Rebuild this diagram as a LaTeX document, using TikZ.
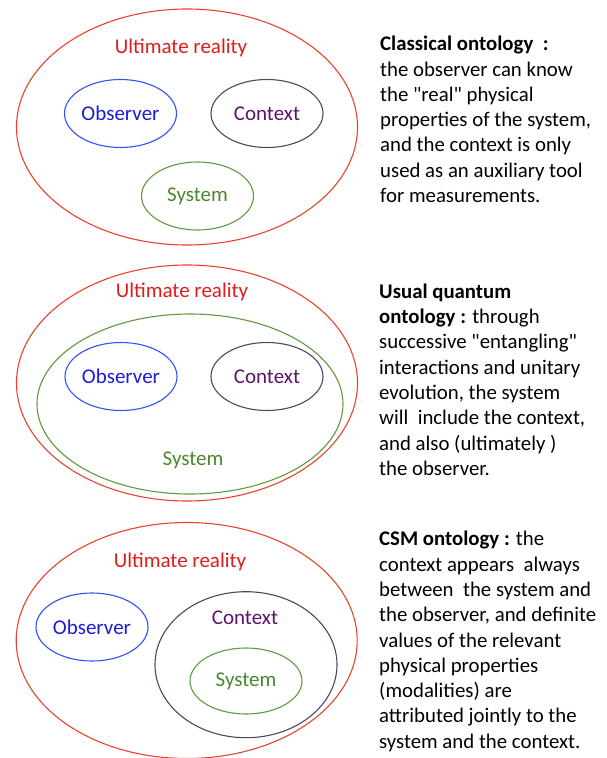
\documentclass[tikz,border=0pt]{standalone}
\usepackage{fontspec}
\setmainfont{Carlito}
\usepackage{xcolor}
\definecolor{realRed}{HTML}{E8432C}
\definecolor{realText}{HTML}{E01B1B}
\definecolor{obsBlue}{HTML}{3050FF}
\definecolor{obsText}{HTML}{1C1CD8}
\definecolor{ctxGray}{HTML}{4E4660}
\definecolor{ctxText}{HTML}{5B1468}
\definecolor{sysGreen}{HTML}{5F9A3C}
\definecolor{sysText}{HTML}{4B8630}
\usepackage{tikz}
\usetikzlibrary{shapes.geometric,positioning}
\tikzset{%
  baseOval/.style={%
    ellipse,
    inner sep=0pt,
    line width=1.1pt,
    font=\fontsize{21}{24}\selectfont
  },
  realityOval/.style={%
    baseOval,
    draw=realRed,
    minimum width=341pt,
    minimum height=236pt
  },
  observerOval/.style={%
    baseOval,
    draw=obsBlue,
    text=obsText,
    minimum width=112pt,
    minimum height=68pt
  },
  contextOval/.style={%
    baseOval,
    draw=ctxGray,
    text=ctxText,
    minimum width=112pt,
    minimum height=68pt
  },
  systemOval/.style={%
    baseOval,
    draw=sysGreen,
    text=sysText,
    minimum width=112pt,
    minimum height=68pt
  },
  ovalLabel/.style={%
    inner sep=0pt,
    font=\fontsize{21}{24}\selectfont
  },
  noteText/.style={%
    anchor=north west,
    align=left,
    inner sep=0pt,
    font=\fontsize{20.8}{25.3}\selectfont
  }
}

\begin{document}
\begin{tikzpicture}[x=1pt, y=-1pt]
  \useasboundingbox (0,0) rectangle (606,758);

  % classical ontology
  \node[realityOval] (realityA) at (187,127) {};
  \node[ovalLabel, text=realText] (realityTextA) at (181,48) {Ultimate reality};
  \node[observerOval] (observerA) at (120.5,113.5) {Observer};
  \node[contextOval] (contextA) at (267,113.5) {Context};
  \node[systemOval] (systemA) at (197.5,196) {System};
  \node[noteText] (noteA) at (380,36) {\textbf{Classical ontology\ \ :}\\
    the observer can know\\
    the \textquotedbl real\textquotedbl{} physical\\
    properties of the system,\\
    and the context is only\\
    used as an auxiliary tool\\
    for measurements.};

  % usual quantum ontology
  \node[realityOval] (realityB) at (187,383) {};
  \node[ovalLabel, text=realText] (realityTextB) at (182,292) {Ultimate reality};
  \node[baseOval, draw=sysGreen, minimum width=306pt, minimum height=180pt] (systemB) at (190,404) {};
  \node[ovalLabel, text=sysText] (systemTextB) at (193,460) {System};
  \node[observerOval] (observerB) at (121,376.5) {Observer};
  \node[contextOval] (contextB) at (267,376.5) {Context};
  \node[noteText] (noteB) at (379,283.5) {\textbf{Usual quantum}\\
    \textbf{ontology :} through\\
    successive \textquotedbl entangling\textquotedbl\\
    interactions and unitary\\
    evolution, the system\\
    will\ \ include the context,\\
    and also (ultimately )\\
    the observer.};

  % CSM ontology
  \node[realityOval] (realityC) at (186.7,640.5) {};
  \node[ovalLabel, text=realText] (realityTextC) at (180,562) {Ultimate reality};
  \node[observerOval] (observerC) at (92,627) {Observer};
  \node[baseOval, draw=ctxGray, minimum width=182pt, minimum height=146pt] (contextC) at (246,664.7) {};
  \node[ovalLabel, text=ctxText] (contextTextC) at (245,618) {Context};
  \node[systemOval, minimum height=66pt] (systemC) at (246,681) {System};
  \node[noteText] (noteC) at (379,531) {\textbf{CSM ontology :} the\\
    context appears\ \ always\\
    between\ \ the system and\\
    the observer, and definite\\
    values of the relevant\\
    physical properties\\
    (modalities) are\\
    attributed jointly to the\\
    system and the context.};
\end{tikzpicture}
\end{document}
